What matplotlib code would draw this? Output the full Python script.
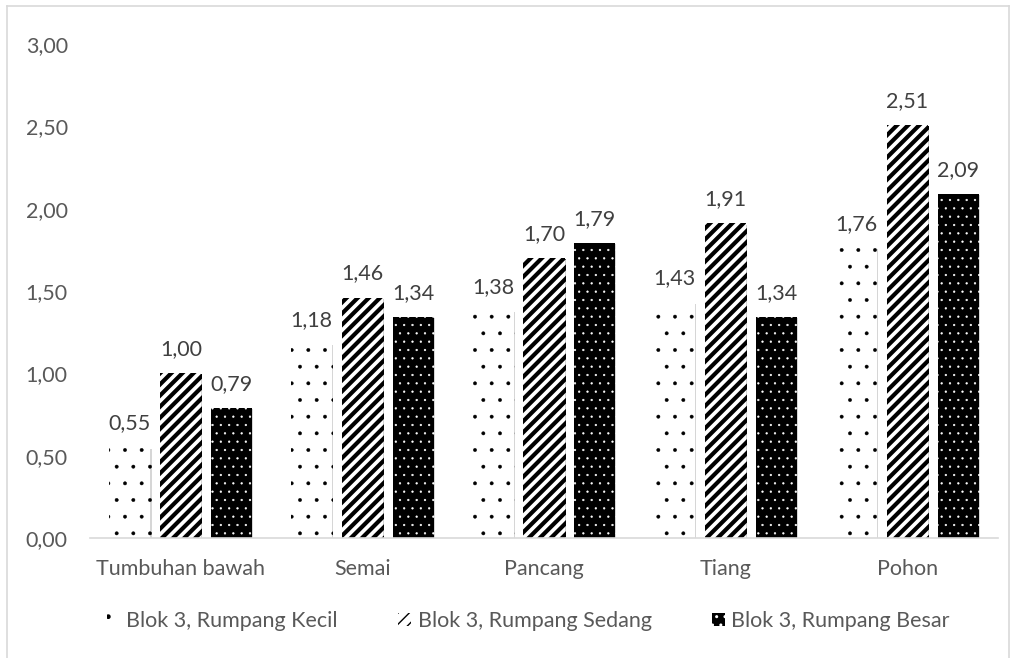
import numpy as np
import matplotlib.pyplot as plt
import matplotlib.patheffects as pe
from matplotlib.patches import Patch
from matplotlib.lines import Line2D

categories = ['Tumbuhan bawah', 'Semai', 'Pancang', 'Tiang', 'Pohon']
series = ['Blok 3, Rumpang Kecil', 'Blok 3, Rumpang Sedang', 'Blok 3, Rumpang Besar']
kecil = [0.55, 1.18, 1.38, 1.43, 1.76]
sedang = [1.00, 1.46, 1.70, 1.91, 2.51]
besar = [0.79, 1.34, 1.79, 1.34, 2.09]
yticks = [0.0, 0.5, 1.0, 1.5, 2.0, 2.5, 3.0]

plt.rcParams['font.family'] = ['Lato', 'DejaVu Sans']
txt = '#595959'
fs = 15.5

fig = plt.figure(figsize=(10.16, 6.58), dpi=100)
ax = fig.add_axes([90 / 1016, 1 - 538 / 658, 908 / 1016, 494 / 658])

x = np.arange(len(categories))
w = 0.226
step = 0.28
styles = [
    dict(color='white', edgecolor='black', hatch='.', lw=0.3),
    dict(color='white', edgecolor='black', hatch='///', lw=3.0),
    dict(color='black', edgecolor='white', hatch='..', lw=0.4),
]
shadow = [pe.SimplePatchShadow(offset=(0.8, -0.8), shadow_rgbFace='#999999', alpha=0.4), pe.Normal()]

for i, (vals, st) in enumerate(zip([kecil, sedang, besar], styles)):
    bars = ax.bar(x + (i - 1) * step, vals, w, color=st['color'], edgecolor=st['edgecolor'],
                  hatch=st['hatch'], linewidth=0)
    for b, v in zip(bars, vals):
        if hasattr(b, 'set_hatch_linewidth'):
            b.set_hatch_linewidth(st['lw'])
        b.set_path_effects(shadow)
        ax.text(b.get_x() + b.get_width() / 2, v + 0.085, f'{v:.2f}'.replace('.', ','),
                ha='center', va='bottom', fontsize=fs, color='#404040')

ax.set_xlim(-0.5, len(categories) - 0.5)
ax.set_ylim(0, 3.0)
ax.set_yticks(yticks)
ax.set_yticklabels([f'{t:.2f}'.replace('.', ',') for t in yticks])
ax.set_xticks(x)
ax.set_xticklabels(categories)
ax.tick_params(axis='y', length=0, pad=16, labelsize=fs, labelcolor=txt)
ax.tick_params(axis='x', length=0, pad=15, labelsize=fs, labelcolor=txt)
for s in ['top', 'right', 'left']:
    ax.spines[s].set_visible(False)
ax.spines['bottom'].set_color('#d9d9d9')
ax.spines['bottom'].set_linewidth(1.2)

handles = [Patch(facecolor=st['color'], edgecolor=st['edgecolor'], hatch=st['hatch'], linewidth=0)
           for st in styles]
leg = fig.legend(handles, series, loc='center', bbox_to_anchor=(0.52, 1 - 621 / 658), ncol=3,
                 frameon=False, fontsize=fs, handlelength=0.6, handleheight=0.6,
                 handletextpad=0.3, columnspacing=2.8, labelcolor=txt)

# chart border
border = dict(color='#d9d9d9', lw=1.2, transform=fig.transFigure)
fig.add_artist(Line2D([7 / 1016, 7 / 1016], [0, 1 - 6 / 658], **border))
fig.add_artist(Line2D([1009 / 1016, 1009 / 1016], [0, 1 - 6 / 658], **border))
fig.add_artist(Line2D([7 / 1016, 1009 / 1016], [1 - 6 / 658, 1 - 6 / 658], **border))

fig.savefig('out.png', dpi=100)
